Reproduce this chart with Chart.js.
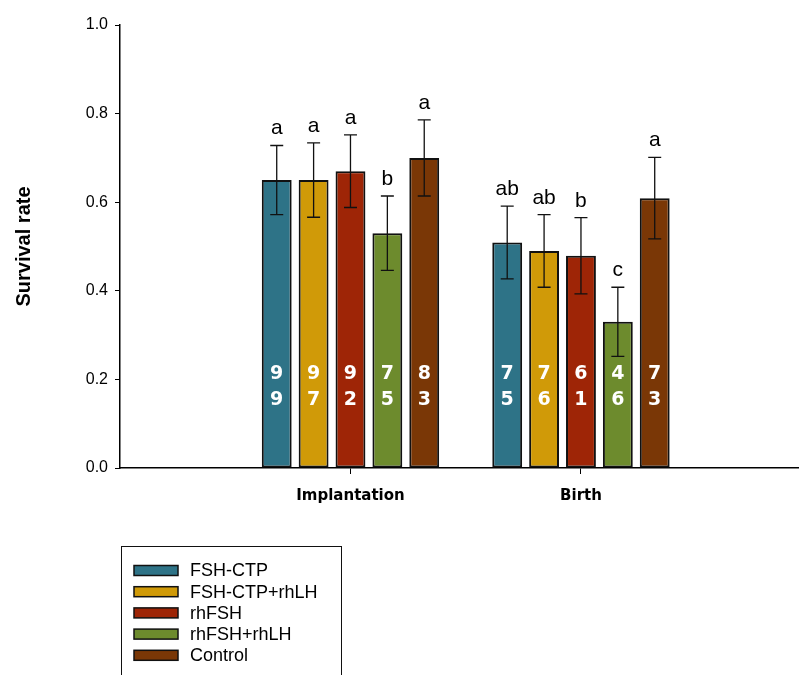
<!DOCTYPE html>
<html><head><meta charset="utf-8">
<script src="https://cdn.jsdelivr.net/npm/chart.js@4.4.1/dist/chart.umd.min.js"></script>
<style>html,body{margin:0;padding:0;background:#fff;overflow:hidden}#wrap{position:relative;width:799px;height:675px}</style>
</head><body><div id="wrap"><canvas id="c" width="799" height="675"></canvas></div>
<script>
// ---- data ----
const categories = ['Implantation', 'Birth'];
const seriesNames = ['FSH-CTP', 'FSH-CTP+rhLH', 'rhFSH', 'rhFSH+rhLH', 'Control'];
const seriesColors = ['#2E7387', '#D09A08', '#9E2506', '#6D8B2D', '#7A3706'];

const fshCtp      = [0.650, 0.509];
const fshCtpRhLH  = [0.650, 0.490];
const rhFSH       = [0.670, 0.479];
const rhFSHRhLH   = [0.530, 0.330];
const control     = [0.700, 0.609];

const errFshCtp     = [0.078, 0.082];
const errFshCtpRhLH = [0.084, 0.082];
const errRhFSH      = [0.082, 0.086];
const errRhFSHRhLH  = [0.084, 0.078];
const errControl    = [0.086, 0.092];

const lettersFshCtp     = ['a', 'ab'];
const lettersFshCtpRhLH = ['a', 'ab'];
const lettersRhFSH      = ['a', 'b'];
const lettersRhFSHRhLH  = ['b', 'c'];
const lettersControl    = ['a', 'a'];

const nFshCtp     = [99, 75];
const nFshCtpRhLH = [97, 76];
const nRhFSH      = [92, 61];
const nRhFSHRhLH  = [75, 46];
const nControl    = [83, 73];

const yTicks = [0.0, 0.2, 0.4, 0.6, 0.8, 1.0];
const yTitle = 'Survival rate';

// ---- build ----
const values  = [fshCtp, fshCtpRhLH, rhFSH, rhFSHRhLH, control];
const errors  = [errFshCtp, errFshCtpRhLH, errRhFSH, errRhFSHRhLH, errControl];
const letters = [lettersFshCtp, lettersFshCtpRhLH, lettersRhFSH, lettersRhFSHRhLH, lettersControl];
const counts  = [nFshCtp, nFshCtpRhLH, nRhFSH, nRhFSHRhLH, nControl];
const countLevel = 0.183;

const datasets = seriesNames.map((name, i) => ({
  label: name,
  data: categories.map((c, j) => ({ x: j + 1, y: values[i][j] })),
  backgroundColor: seriesColors[i],
  borderColor: '#111',
  borderWidth: 2,
  borderSkipped: false,
  categoryPercentage: 0.8,
  barPercentage: 0.81
}));

const annotatePlugin = {
  id: 'annotate',
  afterDatasetsDraw(chart) {
    const ctx = chart.ctx;
    const ys = chart.scales.y;
    ctx.save();
    datasets.forEach((ds, i) => {
      const meta = chart.getDatasetMeta(i);
      meta.data.forEach((el, j) => {
        const v = values[i][j], e = errors[i][j];
        const x = el.x;
        const yT = ys.getPixelForValue(v + e);
        const yB = ys.getPixelForValue(v - e);
        ctx.strokeStyle = '#111';
        ctx.lineWidth = 1.3;
        ctx.beginPath();
        ctx.moveTo(x, yT); ctx.lineTo(x, yB);
        ctx.moveTo(x - 6.5, yT); ctx.lineTo(x + 6.5, yT);
        ctx.moveTo(x - 6.5, yB); ctx.lineTo(x + 6.5, yB);
        ctx.stroke();
        // significance letter
        ctx.fillStyle = '#000';
        ctx.font = '21px "Liberation Sans", Arial, sans-serif';
        ctx.textAlign = 'center';
        ctx.textBaseline = 'alphabetic';
        ctx.fillText(letters[i][j], x, yT - 11);
        // sample size, stacked digits
        const s = String(counts[i][j]);
        const yc = ys.getPixelForValue(countLevel);
        ctx.fillStyle = '#fff';
        ctx.font = 'bold 19px "DejaVu Sans", sans-serif';
        ctx.textBaseline = 'middle';
        ctx.fillText(s[0], x, yc - 13);
        ctx.fillText(s[1], x, yc + 13);
      });
    });
    ctx.restore();
  }
};

const legendPlugin = {
  id: 'boxLegend',
  afterDraw(chart) {
    const ctx = chart.ctx;
    ctx.save();
    ctx.strokeStyle = '#111';
    ctx.lineWidth = 1;
    ctx.strokeRect(121.5, 546.5, 220, 140);
    seriesNames.forEach((name, i) => {
      const yc = 570.5 + i * 21.2;
      ctx.fillStyle = seriesColors[i];
      ctx.fillRect(134, yc - 5, 44, 10);
      ctx.strokeStyle = '#111';
      ctx.lineWidth = 1.5;
      ctx.strokeRect(134, yc - 5, 44, 10);
      ctx.fillStyle = '#000';
      ctx.font = '18px "Liberation Sans", Arial, sans-serif';
      ctx.textAlign = 'left';
      ctx.textBaseline = 'middle';
      ctx.fillText(name, 190, yc + 1);
    });
    ctx.restore();
  }
};

new Chart(document.getElementById('c'), {
  type: 'bar',
  data: { datasets },
  plugins: [annotatePlugin, legendPlugin],
  options: {
    responsive: false,
    devicePixelRatio: 1,
    animation: false,
    layout: { padding: { top: 25, right: 0, bottom: 0, left: 0 } },
    plugins: { legend: { display: false }, tooltip: { enabled: false } },
    scales: {
      x: {
        type: 'linear',
        min: 0,
        max: 2.946,
        offset: false,
        afterBuildTicks: s => { s.ticks = categories.map((c, i) => ({ value: i + 1 })); },
        afterFit: s => { s.height = 207; },
        grid: { display: true, offset: false, drawOnChartArea: false, drawTicks: true, tickLength: 6, color: '#000', lineWidth: 1 },
        border: { display: true, color: '#000', width: 1.5 },
        ticks: {
          autoSkip: false,
          maxRotation: 0,
          color: '#000',
          padding: 13,
          font: { family: '"DejaVu Sans", sans-serif', size: 15, weight: 'bold' },
          callback: v => categories[Math.round(v) - 1] ?? ''
        }
      },
      y: {
        min: 0,
        max: 1,
        afterBuildTicks: s => { s.ticks = yTicks.map(v => ({ value: v })); },
        afterFit: s => { s.width = 120; },
        grid: { display: true, drawOnChartArea: false, drawTicks: true, tickLength: 5, color: '#000', lineWidth: 1 },
        border: { display: true, color: '#000', width: 1.5 },
        ticks: {
          color: '#000',
          padding: 7,
          font: { family: '"Liberation Sans", Arial, sans-serif', size: 16 },
          callback: v => Number(v).toFixed(1)
        },
        title: {
          display: true,
          text: yTitle,
          color: '#000',
          padding: { top: 12, bottom: 0 },
          font: { family: '"Liberation Sans", Arial, sans-serif', size: 20, weight: 'bold' }
        }
      }
    }
  }
});
</script>
</body></html>
